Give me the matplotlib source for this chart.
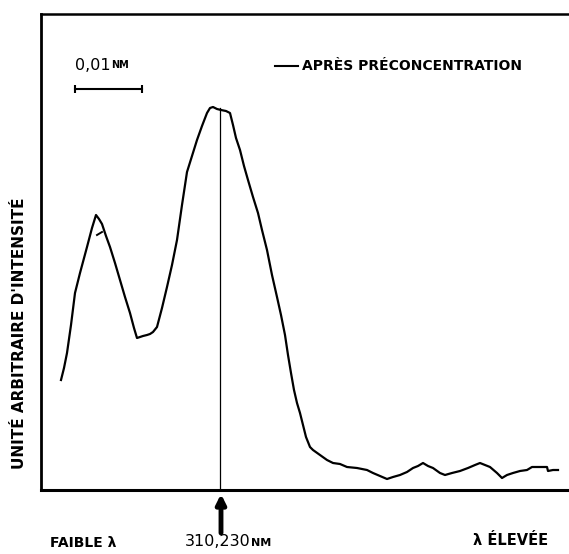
import numpy as np
import matplotlib
matplotlib.use('Agg')
import matplotlib.pyplot as plt

# spectre apres preconcentration (unites arbitraires)
position = [20, 23, 26, 30, 34, 39, 46, 51, 55, 58, 61, 65, 69, 74, 79, 84, 89, 93, 96, 99,
            102, 106, 109, 112, 116, 121, 126, 131, 136, 141, 146, 151, 156, 161, 166, 169, 172, 176, 180, 185,
            189, 192, 195, 199, 203, 207, 212, 217, 221, 226, 231, 236, 240, 244, 247, 250, 253, 256, 259, 262,
            265, 269, 272, 279, 286, 292, 299, 306, 316, 326, 332, 339, 346, 352, 359, 366, 372, 377, 382, 387,
            392, 399, 404, 411, 419, 427, 434, 439, 444, 449, 456, 461, 466, 472, 479, 486, 491, 499, 506, 507,
            512, 517]
intensite = [109, 121, 136, 164, 196, 216, 242, 261, 274, 270, 265, 253, 242, 226, 209, 192, 176, 161, 151, 152,
             153, 154, 155, 157, 162, 181, 202, 224, 249, 284, 317, 333, 349, 363, 376, 381, 382, 380, 379, 378,
             376, 364, 351, 339, 323, 309, 292, 276, 259, 239, 214, 192, 174, 154, 134, 116, 99, 86, 76, 64,
             52, 42, 39, 34, 29, 26, 25, 22, 21, 19, 16, 13, 10, 12, 14, 17, 21, 23, 26, 23,
             21, 16, 14, 16, 18, 21, 24, 26, 24, 22, 16, 11, 14, 16, 18, 19, 22, 22, 22, 18,
             19, 19]

# petit trait parasite pres du premier pic
trait_x = [56, 61]
trait_y = [254, 257]

pic_x = 179          # 310,230 nm
pic_y = 381
echelle_x = [34, 101]  # 0,01 nm
echelle_y = 400

fig = plt.figure(figsize=(5.69, 5.54), dpi=100)
ax = fig.add_axes([41 / 569, 64 / 554, 528 / 569, 476 / 554])

ax.plot(position, intensite, color='black', lw=1.6)
ax.plot(trait_x, trait_y, color='black', lw=1.4)
ax.plot([pic_x, pic_x], [0, pic_y], color='black', lw=0.9)

ax.set_xlim(0, 528)
ax.set_ylim(-1, 475)
ax.set_xticks([])
ax.set_yticks([])
ax.spines['right'].set_visible(False)
ax.spines['left'].set_linewidth(2)
ax.spines['bottom'].set_linewidth(2.2)
ax.spines['top'].set_linewidth(1.8)

# echelle
ax.plot(echelle_x, [echelle_y, echelle_y], color='black', lw=1.5, marker='|', ms=6, mew=1.5)
t1 = ax.text(echelle_x[0], 424, '0,01', fontsize=11.5, va='center', ha='left')
ax.annotate('NM', xy=(1, 0.2), xycoords=t1, fontsize=7, fontweight='bold', va='bottom', ha='left')

# legende
ax.plot([234, 257], [423, 423], color='black', lw=1.5)
ax.text(261, 423, 'APRÈS PRÉCONCENTRATION', fontsize=10, fontweight='bold', va='center', ha='left')

# fleche et longueur d'onde
ax.annotate('', xy=(pic_x + 1, -5), xytext=(pic_x + 1, -44),
            arrowprops=dict(arrowstyle='-|>', lw=3.5, mutation_scale=14, color='black',
                            shrinkA=0, shrinkB=0),
            annotation_clip=False)
t2 = ax.text(144, -53, '310,230', fontsize=11.5, va='center', ha='left', clip_on=False)
ax.annotate('NM', xy=(1, 0.12), xycoords=t2, fontsize=8, fontweight='bold', va='bottom', ha='left')

ax.text(0.017, -0.111, 'FAIBLE λ', transform=ax.transAxes, fontsize=10, fontweight='bold',
        va='center', ha='left')
ax.text(0.818, -0.107, 'λ ÉLEVÉE', transform=ax.transAxes, fontsize=10.5, fontweight='bold',
        va='center', ha='left')
ax.text(-0.040, 0.33, "UNITÉ ARBITRAIRE D'INTENSITÉ", transform=ax.transAxes, fontsize=11,
        fontweight='bold', rotation=90, va='center', ha='center')

fig.savefig('out.png', dpi=100)
